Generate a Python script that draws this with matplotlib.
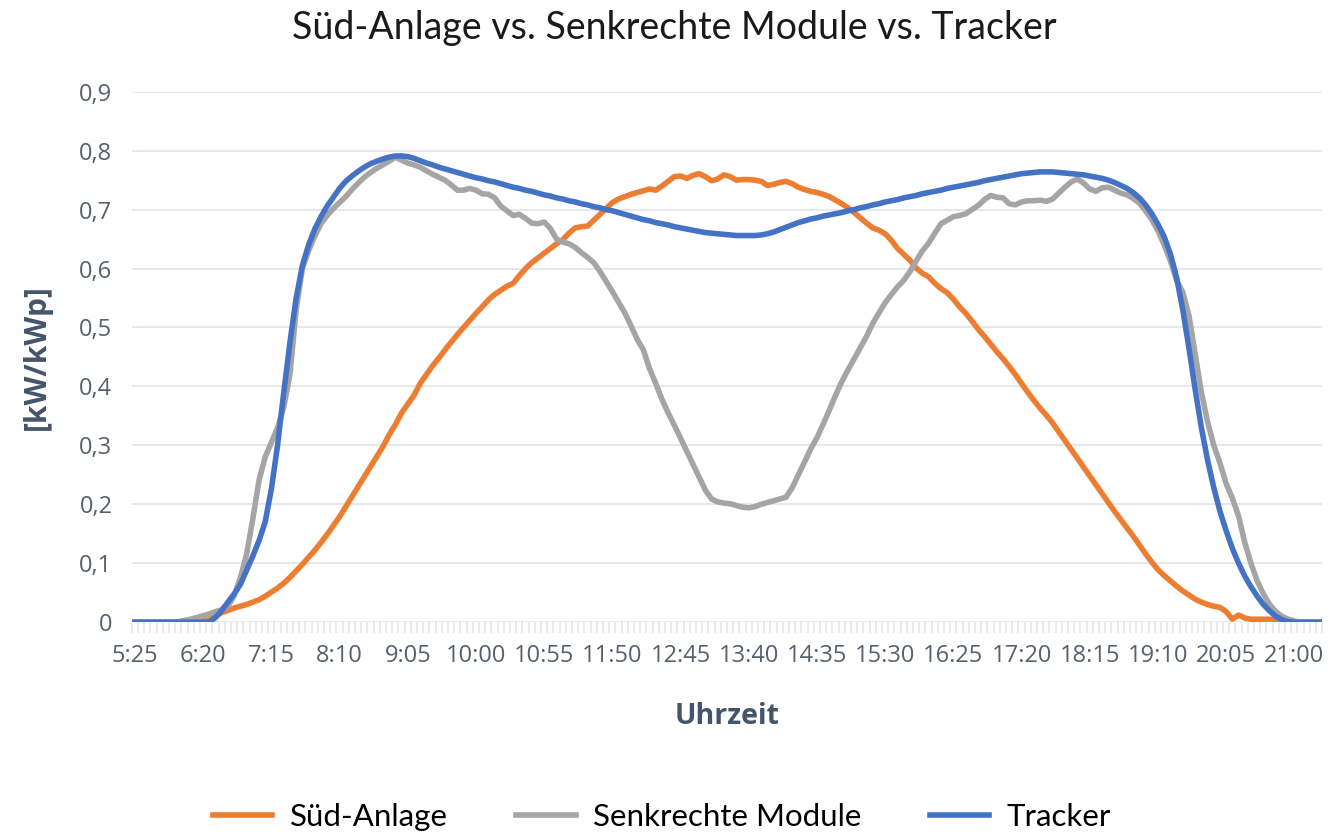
import matplotlib
matplotlib.use("Agg")
import matplotlib.pyplot as plt
import numpy as np

# 5-Minuten-Werte von 5:25 bis 21:20
start_min = 5 * 60 + 25
n_points = 192
zeiten = [f"{(start_min + 5 * k) // 60}:{(start_min + 5 * k) % 60:02d}" for k in range(n_points)]

sued = [
    0, 0, 0, 0, 0, 0, 0, 0, 0, 0,
    0.001, 0.002, 0.004, 0.011, 0.016, 0.02, 0.024, 0.027, 0.03, 0.034,
    0.038, 0.044, 0.051, 0.058, 0.066, 0.076, 0.087, 0.098, 0.11, 0.122,
    0.135, 0.149, 0.164, 0.179, 0.196, 0.213, 0.23, 0.247, 0.264, 0.281,
    0.298, 0.318, 0.335, 0.355, 0.37, 0.385, 0.405, 0.42, 0.435, 0.448,
    0.462, 0.475, 0.488, 0.5, 0.512, 0.524, 0.535, 0.547, 0.556, 0.563,
    0.57, 0.575, 0.588, 0.6, 0.61, 0.618, 0.626, 0.634, 0.642, 0.649,
    0.66, 0.669, 0.671, 0.672, 0.682, 0.692, 0.702, 0.712, 0.718, 0.722,
    0.726, 0.729, 0.732, 0.735, 0.733, 0.74, 0.748, 0.756, 0.757, 0.753,
    0.758, 0.761, 0.756, 0.749, 0.752, 0.759, 0.756, 0.75, 0.751, 0.751,
    0.75, 0.748, 0.741, 0.743, 0.746, 0.748, 0.744, 0.738, 0.734, 0.731,
    0.729, 0.726, 0.722, 0.716, 0.71, 0.703, 0.695, 0.686, 0.677, 0.669,
    0.665, 0.659, 0.648, 0.634, 0.624, 0.614, 0.601, 0.592, 0.586, 0.575,
    0.566, 0.559, 0.548, 0.535, 0.524, 0.511, 0.497, 0.485, 0.472, 0.459,
    0.447, 0.434, 0.42, 0.405, 0.39, 0.376, 0.363, 0.351, 0.338, 0.323,
    0.308, 0.293, 0.278, 0.263, 0.248, 0.233, 0.218, 0.203, 0.188, 0.174,
    0.16, 0.146, 0.131, 0.116, 0.102, 0.089, 0.079, 0.07, 0.061, 0.053,
    0.046, 0.039, 0.034, 0.03, 0.027, 0.025, 0.018, 0.005, 0.012, 0.007,
    0.005, 0.005, 0.005, 0.005, 0.004, 0.004, 0.003, 0, 0, 0,
    0, 0,
]

senkrecht = [
    0, 0, 0, 0, 0, 0, 0, 0.001, 0.003, 0.005,
    0.008, 0.011, 0.014, 0.018, 0.021, 0.027, 0.045, 0.075, 0.115, 0.175,
    0.24, 0.28, 0.305, 0.33, 0.365, 0.42, 0.53, 0.6, 0.63, 0.655,
    0.676, 0.69, 0.702, 0.712, 0.722, 0.734, 0.745, 0.755, 0.763, 0.77,
    0.776, 0.782, 0.789, 0.784, 0.779, 0.776, 0.772, 0.766, 0.76, 0.755,
    0.75, 0.742, 0.733, 0.733, 0.736, 0.733, 0.727, 0.726, 0.72, 0.706,
    0.698, 0.69, 0.692, 0.685, 0.677, 0.676, 0.679, 0.668, 0.65, 0.645,
    0.642, 0.636, 0.627, 0.619, 0.61, 0.595, 0.578, 0.561, 0.543, 0.525,
    0.503, 0.48, 0.462, 0.43, 0.405, 0.378, 0.355, 0.334, 0.312, 0.29,
    0.268, 0.246, 0.224, 0.209, 0.204, 0.202, 0.201, 0.198, 0.195, 0.194,
    0.196, 0.2, 0.203, 0.206, 0.209, 0.212, 0.228, 0.25, 0.272, 0.294,
    0.313, 0.336, 0.36, 0.385, 0.408, 0.428, 0.447, 0.466, 0.485, 0.507,
    0.525, 0.542, 0.556, 0.569, 0.58, 0.595, 0.613, 0.63, 0.643, 0.66,
    0.676, 0.682, 0.688, 0.69, 0.693, 0.7, 0.707, 0.717, 0.724, 0.721,
    0.72, 0.71, 0.708, 0.713, 0.715, 0.715, 0.716, 0.714, 0.718, 0.728,
    0.738, 0.747, 0.752, 0.745, 0.735, 0.731, 0.737, 0.738, 0.733, 0.728,
    0.725, 0.719, 0.711, 0.698, 0.683, 0.664, 0.64, 0.613, 0.58, 0.56,
    0.52, 0.455, 0.39, 0.34, 0.3, 0.27, 0.235, 0.21, 0.18, 0.135,
    0.1, 0.07, 0.048, 0.03, 0.018, 0.01, 0.005, 0.002, 0, 0,
    0, 0,
]

tracker = [
    0, 0, 0, 0, 0, 0, 0, 0, 0, 0,
    0, 0, 0, 0.008, 0.02, 0.034, 0.048, 0.064, 0.088, 0.112,
    0.138, 0.17, 0.226, 0.3, 0.39, 0.475, 0.55, 0.605, 0.64, 0.667,
    0.688, 0.706, 0.721, 0.736, 0.748, 0.757, 0.765, 0.772, 0.778, 0.782,
    0.786, 0.789, 0.791, 0.791, 0.79, 0.787, 0.783, 0.779, 0.776, 0.772,
    0.769, 0.766, 0.763, 0.76, 0.757, 0.754, 0.752, 0.749, 0.747, 0.744,
    0.741, 0.738, 0.736, 0.733, 0.731, 0.728, 0.725, 0.723, 0.72, 0.718,
    0.715, 0.713, 0.71, 0.708, 0.705, 0.703, 0.7, 0.698, 0.695, 0.692,
    0.689, 0.686, 0.683, 0.681, 0.678, 0.676, 0.674, 0.671, 0.669, 0.667,
    0.665, 0.663, 0.661, 0.66, 0.659, 0.658, 0.657, 0.656, 0.656, 0.656,
    0.656, 0.657, 0.659, 0.662, 0.666, 0.67, 0.674, 0.678, 0.681, 0.684,
    0.686, 0.689, 0.691, 0.693, 0.695, 0.698, 0.7, 0.703, 0.705, 0.708,
    0.71, 0.713, 0.715, 0.717, 0.72, 0.722, 0.724, 0.727, 0.729, 0.731,
    0.733, 0.736, 0.738, 0.74, 0.742, 0.744, 0.746, 0.749, 0.751, 0.753,
    0.755, 0.757, 0.759, 0.761, 0.762, 0.763, 0.764, 0.764, 0.764, 0.763,
    0.762, 0.761, 0.76, 0.759, 0.757, 0.755, 0.753, 0.75, 0.746, 0.741,
    0.736, 0.729, 0.72, 0.708, 0.693, 0.675, 0.654, 0.625, 0.585, 0.53,
    0.465, 0.395, 0.33, 0.275, 0.228, 0.188, 0.155, 0.125, 0.1, 0.078,
    0.06, 0.044, 0.03, 0.019, 0.01, 0.004, 0.001, 0, 0, 0,
    0, 0,
]

y_ticks = [0, 0.1, 0.2, 0.3, 0.4, 0.5, 0.6, 0.7, 0.8, 0.9]
y_labels = ["0", "0,1", "0,2", "0,3", "0,4", "0,5", "0,6", "0,7", "0,8", "0,9"]

c_orange = "#ED7D31"
c_grau = "#A5A5A5"
c_blau = "#4472C4"
c_text = "#595f6e"
c_achse = "#44546A"

fig = plt.figure(figsize=(13.32, 8.34), dpi=100)
ax = fig.add_axes([0.099, 0.254, 0.8937, 0.636])

x = np.arange(n_points)
ax.plot(x, sued, color=c_orange, lw=4, label="Süd-Anlage", solid_joinstyle="round")
ax.plot(x, senkrecht, color=c_grau, lw=4, label="Senkrechte Module", solid_joinstyle="round")
ax.plot(x, tracker, color=c_blau, lw=4, label="Tracker", solid_joinstyle="round")

ax.set_xlim(-0.5, n_points - 0.5)
ax.set_ylim(0, 0.9)
ax.set_yticks(y_ticks)
ax.set_yticklabels(y_labels)
major = list(range(0, n_points, 11))
ax.set_xticks(major)
ax.set_xticklabels([zeiten[k] for k in major])
ax.set_xticks(np.arange(-0.5, n_points, 1), minor=True)

for s in ax.spines.values():
    s.set_visible(False)
ax.grid(axis="y", color="#e3e6ee", lw=1.3)
ax.set_axisbelow(True)
ax.tick_params(axis="y", length=0, pad=14, labelsize=17, labelcolor=c_text)
ax.tick_params(axis="x", which="major", length=0, pad=16, labelsize=17, labelcolor=c_text)
ax.tick_params(axis="x", which="minor", length=8, width=1.2, color="#e3e6ee", direction="out")
for lab in ax.get_xticklabels() + ax.get_yticklabels():
    lab.set_family("Open Sans")

ax.set_xlabel("Uhrzeit", fontsize=20.5, fontweight="bold", color=c_achse, labelpad=24, family="Open Sans")
ax.set_ylabel("[kW/kWp]", fontsize=21.5, fontweight="bold", color=c_achse, labelpad=20, family="Open Sans")
fig.suptitle("Süd-Anlage vs. Senkrechte Module vs. Tracker", x=0.506, y=0.988,
             fontsize=27, family="Lato", color="#1a1a1a")

fig.legend(loc="lower center", bbox_to_anchor=(0.497, -0.03), ncol=3, frameon=False,
           prop={"family": "Lato", "size": 22.5}, handlelength=1.9, columnspacing=2.2,
           handletextpad=0.55)

fig.savefig("out.png", dpi=100)
